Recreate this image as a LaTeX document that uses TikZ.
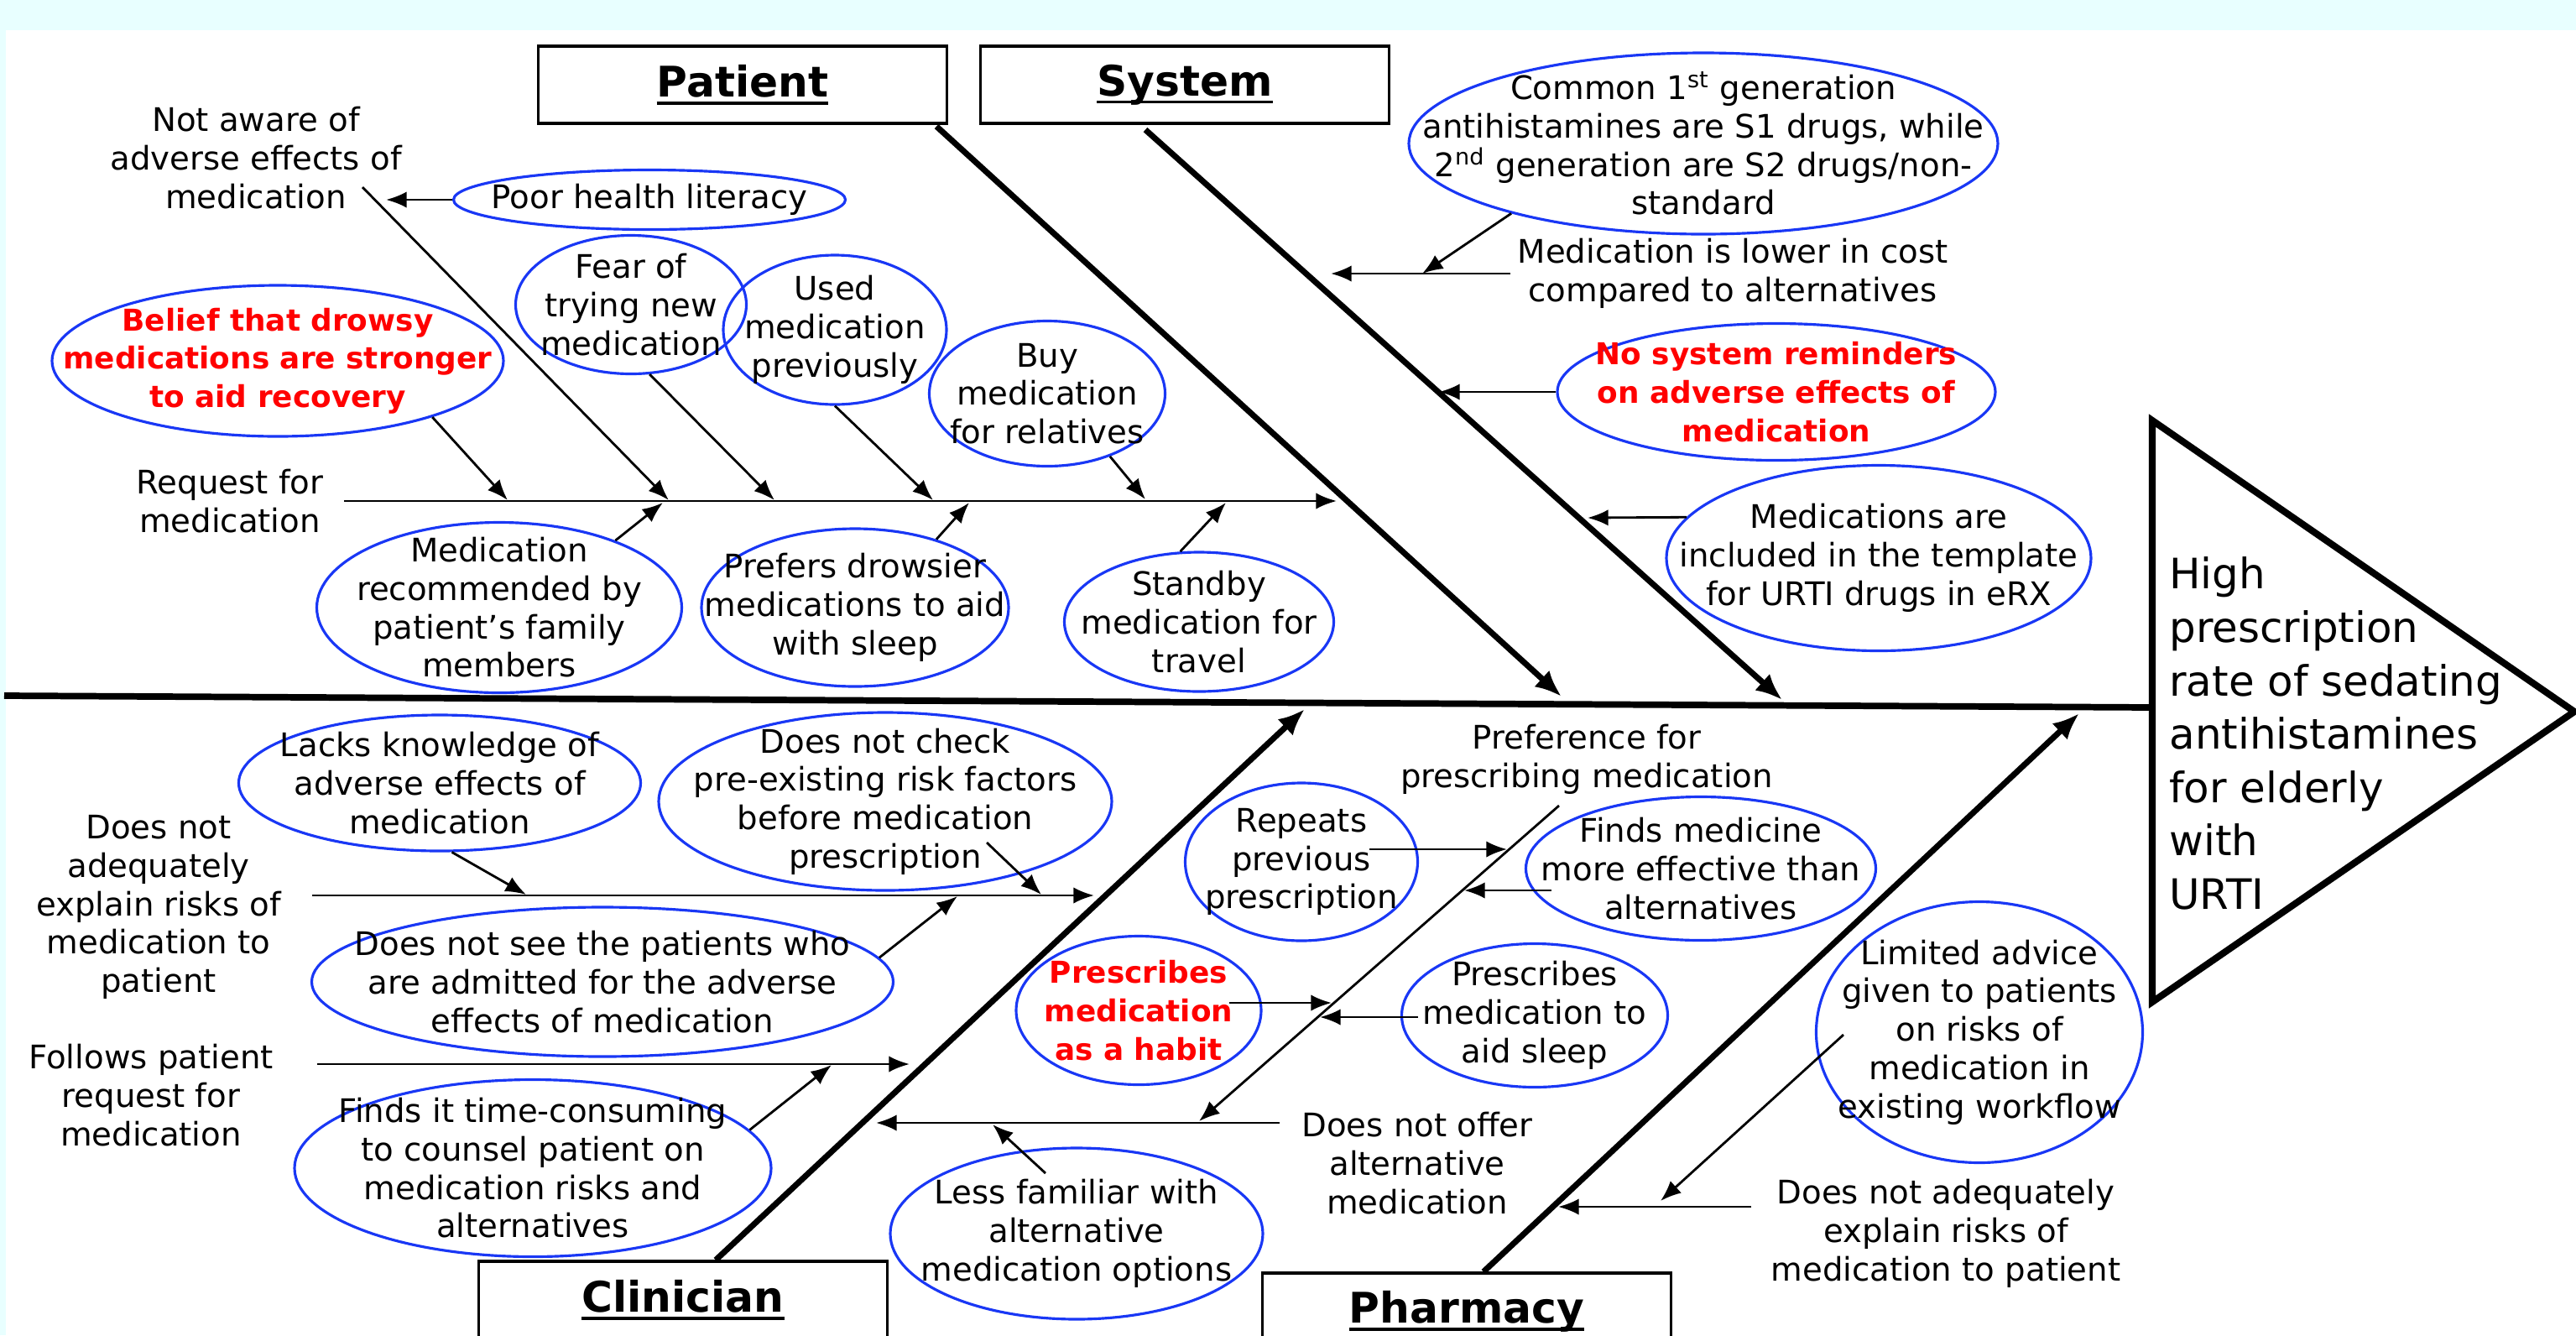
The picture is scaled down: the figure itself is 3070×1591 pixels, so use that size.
\documentclass[tikz,border=0pt]{standalone}
\usepackage{fontspec}
\setmainfont{DejaVu Sans}
\usepackage{tikz}
\usetikzlibrary{shapes.geometric,calc,arrows.meta}

\definecolor{ovalblue}{RGB}{25,55,245}
\definecolor{bandcyan}{RGB}{232,255,255}
\newcommand{\cattitle}[1]{\setbox0\hbox{#1}\rlap{\rule[-2.6pt]{\wd0}{0.95pt}}\box0}

\begin{document}
\begin{tikzpicture}[x=0.1mm,y=-0.1mm,->,>={Latex[length=7pt,width=5.5pt]},
                    line width=0.8pt,font=\fontsize{11}{13}\selectfont,
                    cause/.style={shape=ellipse,draw=ovalblue,line width=0.9pt,align=center,inner sep=-40mm},
                    ovalsize/.style 2 args={minimum width=#1mm,minimum height=#2mm},
                    hot/.style={text=red,font=\fontsize{10.2}{13}\selectfont\bfseries},
                    note/.style={align=center,inner sep=2pt},
                    catbox/.style={draw,line width=0.9pt,minimum width=48.7mm,minimum height=9.2mm,
                                   font=\fontsize{14.3}{17}\selectfont\bfseries},
                    bone/.style={line width=2pt,>={Latex[length=9pt,width=7.5pt]}}]

  \useasboundingbox (0,0) rectangle (3070,1591);
  \clip (0,0) rectangle (3070,1591);
  \fill[bandcyan] (0,0) rectangle (3070,36);
  \fill[bandcyan] (0,36) rectangle (7,1591);

  \node[catbox] (patient)   at (885,101)   {\cattitle{Patient}};
  \node[catbox] (system)    at (1412,101)  {\cattitle{System}};
  \node[catbox] (clinician) at (814,1549)  {\cattitle{Clinician}};
  \node[catbox] (pharmacy)  at (1748,1563) {\cattitle{Pharmacy}};

  \coordinate (tail) at (5,829);
  \coordinate (head) at (2565,843);
  \draw[-,line width=2.2pt] (tail) -- (head);
  \draw[-,line width=2.3pt] (2565,501) -- (3068,848) -- (2565,1194) -- cycle;
  \node[anchor=west,align=left,inner sep=0pt,font=\fontsize{14.2}{18.1}\selectfont] (effect) at (2584,874)
       {High\\prescription\\rate of sedating\\antihistamines\\for elderly\\with\\URTI};

  \coordinate (ptip) at (1861,830);
  \coordinate (stip) at (2124,834);
  \coordinate (ctip) at (1555,845);
  \coordinate (htip) at (2478,850);
  \draw[bone] ($(patient.south east)+(-14,2)$) -- (ptip);
  \draw[bone] ($(system.south)+(-47,6)$) -- (stip);
  \draw[bone] ($(clinician.north)+(39,0)$) -- (ctip);
  \draw[bone] ($(pharmacy.north)+(20,0)$) -- (htip);

  \node[note] (request) at (274,597) {Request for\\medication};
  \coordinate (reqA) at (410,597);
  \coordinate (reqB) at (1593,597);
  \draw (reqA) -- (reqB);
  \node[note] (notaware) at (305,188) {Not aware of\\adverse effects of\\medication};
  \coordinate (naA) at (432,223);
  \coordinate (naB) at (797,596);
  \draw (naA) -- (naB);
  \node[cause,ovalsize={46.7}{7.1}] (poor) at (774,238) {Poor health literacy};
  \coordinate (poorT) at (460,238);
  \draw (poor.west) -- (poorT);

  \node[cause,hot,ovalsize={53.8}{18}] (belief) at (331,430) {Belief that drowsy\\medications are stronger\\to aid recovery};
  \node[cause,ovalsize={27.5}{16.5}] (fear)     at (752,363)  {Fear of\\trying new\\medication};
  \node[cause,ovalsize={26.6}{17.8}] (used)     at (995,393)  {Used\\medication\\previously};
  \node[cause,ovalsize={28.1}{17.3}] (buy)      at (1248,469) {Buy\\medication\\for relatives};
  \node[cause,ovalsize={43.5}{20.3}] (family)   at (595,724)  {Medication\\recommended by\\patient’s family\\members};
  \node[cause,ovalsize={36.6}{18.8}] (drowsier) at (1019,724) {Prefers drowsier\\medications to aid\\with sleep};
  \node[cause,ovalsize={32.1}{16.6}] (standby)  at (1429,741) {Standby\\medication for\\travel};
  \coordinate (beliefT)   at (605,596);
  \coordinate (fearT)     at (923,596);
  \coordinate (usedT)     at (1112,596);
  \coordinate (buyT)      at (1365,595);
  \coordinate (familyT)   at (790,599);
  \coordinate (drowsierT) at (1155,599);
  \coordinate (standbyT)  at (1461,599);
  \draw (belief.-20) -- (beliefT);
  \draw (fear.-75) -- (fearT);
  \draw (used.south) -- (usedT);
  \draw (buy.-45) -- (buyT);
  \draw (family.30) -- (familyT);
  \draw (drowsier.40) -- (drowsierT);
  \draw (standby.105) -- (standbyT);

  \node[cause,ovalsize={70.2}{21.6}] (common) at (2030,171)
       {Common 1\textsuperscript{st} generation\\antihistamines are S1 drugs, while\\2\textsuperscript{nd} generation are S2 drugs/non-\\standard};
  \node[note] (cost) at (2065,326) {Medication is lower in cost\\compared to alternatives};
  \coordinate (costT)   at (1586,326);
  \coordinate (commonT) at (1695,326);
  \draw (cost.west) -- (costT);
  \draw (common.-160) -- (commonT);
  \node[cause,hot,ovalsize={52.2}{16.3}] (reminder) at (2117,467) {No system reminders\\on adverse effects of\\medication};
  \coordinate (reminderT) at (1715,467);
  \draw (reminder.west) -- (reminderT);
  \node[cause,ovalsize={50.6}{22.1}] (template) at (2239,665) {Medications are\\included in the template\\for URTI drugs in eRX};
  \coordinate (templateT) at (1892,617);
  \draw (template.168) -- (templateT);

  \node[note] (explainc) at (189,1081) {Does not\\adequately\\explain risks of\\medication to\\patient};
  \coordinate (explainA) at (372,1067);
  \coordinate (explainB) at (1304,1067);
  \draw (explainA) -- (explainB);
  \node[cause,ovalsize={47.9}{16.2}] (lacks)  at (524,933)  {Lacks knowledge of\\adverse effects of\\medication};
  \node[cause,ovalsize={54}{21.2}]   (check)  at (1055,955) {Does not check\\pre-existing risk factors\\before medication\\prescription};
  \node[cause,ovalsize={69.3}{17.8}] (unseen) at (718,1170) {Does not see the patients who\\are admitted for the adverse\\effects of medication};
  \coordinate (lacksT)  at (627,1066);
  \coordinate (checkT)  at (1241,1066);
  \coordinate (unseenT) at (1141,1068);
  \draw (lacks.-80) -- (lacksT);
  \draw ($(check)+(121,49)$) -- (checkT);
  \draw (unseen.5) -- (unseenT);

  \node[note] (follows) at (180,1305) {Follows patient\\request for\\medication};
  \coordinate (followsA) at (378,1268);
  \coordinate (followsB) at (1084,1268);
  \draw (followsA) -- (followsB);
  \node[cause,ovalsize={56.8}{21.1}] (timec) at (635,1392) {Finds it time-consuming\\to counsel patient on\\medication risks and\\alternatives};
  \coordinate (timecT) at (991,1269);
  \draw (timec.10) -- (timecT);

  \node[note] (offer) at (1689,1386) {Does not offer\\alternative\\medication};
  \coordinate (offerA) at (1525,1338);
  \coordinate (offerB) at (1044,1338);
  \draw (offerA) -- (offerB);
  \node[cause,ovalsize={44.4}{20.4}] (unfamiliar) at (1283,1470) {Less familiar with\\alternative\\medication options};
  \coordinate (unfamiliarT) at (1183,1340);
  \draw ($(unfamiliar)+(-37,-72)$) -- (unfamiliarT);

  \node[note] (preference) at (1891,905) {Preference for\\prescribing medication};
  \coordinate (prefA) at (1858,960);
  \coordinate (prefB) at (1429,1336);
  \draw (prefA) -- (prefB);
  \node[cause,ovalsize={27.7}{18.8}]     (repeats)   at (1551,1027) {Repeats\\previous\\prescription};
  \node[cause,ovalsize={41.7}{17.1}]     (effective) at (2027,1035) {Finds medicine\\more effective than\\alternatives};
  \node[cause,hot,ovalsize={29.2}{17.7}] (habit)     at (1357,1204) {Prescribes\\medication\\as a habit};
  \node[cause,ovalsize={31.7}{17.1}]     (sleep)     at (1829,1210) {Prescribes\\medication to\\aid sleep};
  \coordinate (repeatsT)   at (1796,1012);
  \coordinate (effectiveT) at (1745,1061);
  \coordinate (habitT)     at (1587,1195);
  \coordinate (sleepT)     at (1573,1212);
  \draw ($(repeats)+(81,-15)$) -- (repeatsT);
  \draw ($(effective)+(-178,26)$) -- (effectiveT);
  \draw ($(habit)+(108,-9)$) -- (habitT);
  \draw ($(sleep)+(-139,2)$) -- (sleepT);

  \node[cause,ovalsize={38.9}{31.1}] (advice) at (2359,1230) {Limited advice\\given to patients\\on risks of\\medication in\\existing workflow};
  \node[note] (explainp) at (2319,1470) {Does not adequately\\explain risks of\\medication to patient};
  \coordinate (explainpA) at (2087,1438);
  \coordinate (explainpB) at (1857,1438);
  \draw (explainpA) -- (explainpB);
  \coordinate (adviceT) at (1979,1431);
  \draw ($(advice)+(-162,3)$) -- (adviceT);
\end{tikzpicture}
\end{document}
